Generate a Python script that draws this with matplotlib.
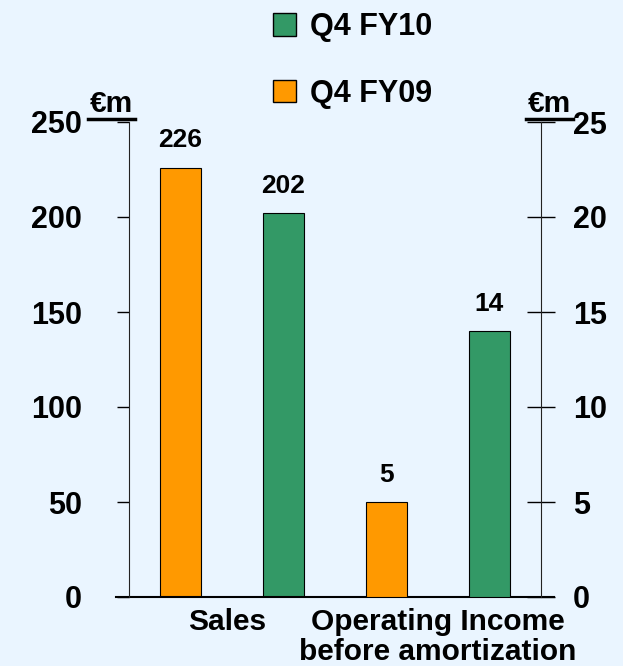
import matplotlib
matplotlib.use("Agg")
import matplotlib.pyplot as plt
from matplotlib.patches import Patch
from matplotlib.lines import Line2D

# data
categories = ["Sales", "Operating Income\nbefore amortization"]
fy09 = [226, 5]
fy10 = [202, 14]
left_ticks = [0, 50, 100, 150, 200, 250]
right_ticks = [0, 5, 10, 15, 20, 25]

bg = "#EAF5FF"
orange = "#FF9900"
green = "#339966"

plt.rcParams["font.family"] = ["Liberation Sans", "DejaVu Sans"]
plt.rcParams["font.weight"] = "bold"

fig = plt.figure(figsize=(6.23, 6.66), dpi=100, facecolor=bg)
ax = fig.add_axes([129 / 623, 1 - 597 / 666, 412 / 623, 475 / 666])
ax.set_facecolor(bg)
ax2 = ax.twinx()

w = 0.4
# Sales on the left scale, operating income on the right scale
b1 = ax.bar([0, 1], [fy09[0], fy10[0]], width=w, color=[orange, green],
            edgecolor="black", linewidth=0.8)
b2 = ax2.bar([2, 3], [fy09[1], fy10[1]], width=w, color=[orange, green],
             edgecolor="black", linewidth=0.8)
ax.bar_label(b1, padding=11, fontsize=19, fontweight="bold")
ax2.bar_label(b2, padding=11, fontsize=19, fontweight="bold")

ax.set_xlim(-0.5, 3.5)
ax.set_ylim(0, 250)
ax2.set_ylim(0, 25)
ax.set_yticks(left_ticks)
ax2.set_yticks(right_ticks)
ax.set_xticks([0.45, 2.5])
ax.set_xticklabels(categories, fontsize=21.5, fontweight="bold", linespacing=1.1)
ax.tick_params(axis="x", length=0, pad=8)
ax.tick_params(axis="y", direction="out", length=9, width=1, labelsize=22, pad=25)
ax2.tick_params(axis="y", direction="inout", length=20, width=1, labelsize=22, pad=13)

for a in (ax, ax2):
    a.spines["top"].set_visible(False)
    a.spines["bottom"].set_visible(False)
ax2.spines["left"].set_visible(False)
ax.spines["right"].set_visible(False)
ax.spines["left"].set_color("#222222")
ax2.spines["right"].set_color("#222222")

# extended baseline
ax.plot([-0.032, 1.032], [0, 0], transform=ax.transAxes, color="black",
        lw=1.5, clip_on=False)

# unit labels with underline
for x0, x1 in [(88, 135), (526, 573)]:
    fig.text((x0 + x1) / 2 / 623, 1 - 104 / 666, "€m", fontsize=21.5,
             fontweight="bold", ha="center", va="center")
    fig.add_artist(Line2D([x0 / 623, x1 / 623], [1 - 119 / 666] * 2,
                          color="black", lw=2.5))

handles = [Patch(facecolor=green, edgecolor="black", label="Q4 FY10"),
           Patch(facecolor=orange, edgecolor="black", label="Q4 FY09")]
fig.legend(handles=handles, loc="upper left", bbox_to_anchor=(258 / 623, 1 + 3 / 666),
           frameon=False, handlelength=0.75, handleheight=0.75,
           handletextpad=0.45, labelspacing=1.2, borderpad=0,
           prop={"weight": "bold", "size": 22})

fig.savefig("out.png", dpi=100, facecolor=bg)
